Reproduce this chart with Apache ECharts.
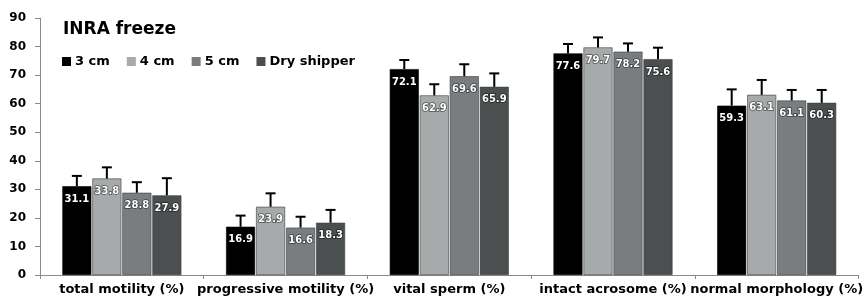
<!DOCTYPE html>
<html>
<head>
<meta charset="utf-8">
<script src="https://cdn.jsdelivr.net/npm/echarts@6/dist/echarts.min.js"></script>
<style>
  html, body { margin: 0; padding: 0; background: #fff; }
  #chart { width: 865px; height: 298px; }
</style>
</head>
<body>
<div id="chart"></div>
<script>
var categories  = ['total motility (%)', 'progressive motility (%)', 'vital sperm (%)', 'intact acrosome (%)', 'normal morphology (%)'];
var seriesNames = ['3 cm', '4 cm', '5 cm', 'Dry shipper'];
var colors      = ['#000000', '#a7aaab', '#7a7d7f', '#4b4f50'];

var values3cm   = [31.1, 16.9, 72.1, 77.6, 59.3];
var values4cm   = [33.8, 23.9, 62.9, 79.7, 63.1];
var values5cm   = [28.8, 16.6, 69.6, 78.2, 61.1];
var valuesDry   = [27.9, 18.3, 65.9, 75.6, 60.3];

var errors3cm   = [3.6, 3.9, 3.2, 3.3, 5.7];
var errors4cm   = [3.9, 4.7, 3.9, 3.5, 5.2];
var errors5cm   = [3.7, 3.8, 4.2, 2.9, 3.7];
var errorsDry   = [6.0, 4.5, 4.7, 4.0, 4.5];

var yTicks = { min: 0, max: 90, interval: 10 };

var BAR_WIDTH = 29;
var BAR_STEP  = 30;
var FONT      = '"DejaVu Sans", Verdana, sans-serif';

var allValues = [values3cm, values4cm, values5cm, valuesDry];
var allErrors = [errors3cm, errors4cm, errors5cm, errorsDry];

/**
 * Build the bar series for one group.
 */
function barSeries(index)
{
    return {
        name: seriesNames[index],
        type: 'bar',
        barWidth: BAR_WIDTH,
        barGap: ((BAR_STEP - BAR_WIDTH) / BAR_WIDTH * 100) + '%',
        itemStyle: {color: colors[index], borderColor: index == 0 ? '#000' : '#3a3d3e', borderWidth: 0.6},
        label:
        {
            show: true,
            position: 'insideTop',
            distance: 8,
            color: '#fff',
            fontFamily: FONT,
            fontWeight: 'bold',
            fontSize: 10,
            textBorderColor: 'rgba(0,0,0,0.55)',
            textBorderWidth: 1.5,
            formatter: function(p) { return p.value.toFixed(1); }
        },
        data: allValues[index],
        z: 2
    };
}

/**
 * Build the error bar series (upper whisker only) for one group.
 */
function errorSeries(index)
{
    var data = allValues[index].map(function(v, i) { return [i, v, allErrors[index][i]]; });
    return {
        name: seriesNames[index],
        type: 'custom',
        encode: {x: 0, y: 1},
        data: data,
        z: 3,
        silent: true,
        renderItem: function(params, api)
        {
            var idx    = api.value(0);
            var top    = api.coord([idx, api.value(1)]);
            var cap    = api.coord([idx, api.value(1) + api.value(2)]);
            var offset = (index - 1.5) * BAR_STEP;
            var x      = top[0] + offset;
            var style  = {stroke: '#000', lineWidth: 2};
            return {
                type: 'group',
                children:
                [
                    {type: 'line', shape: {x1: x, y1: top[1], x2: x, y2: cap[1]}, style: style},
                    {type: 'line', shape: {x1: x - 5, y1: cap[1], x2: x + 5, y2: cap[1]}, style: style}
                ]
            };
        }
    };
}

var series = [];
for(var i = 0; i < seriesNames.length; i++) series.push(barSeries(i));
for(var i = 0; i < seriesNames.length; i++) series.push(errorSeries(i));

var chart = echarts.init(document.getElementById('chart'), null, {renderer: 'canvas'});
chart.setOption({
    animation: false,
    backgroundColor: '#fff',
    color: colors,
    title:
    {
        text: 'INRA freeze',
        left: 58,
        top: 16,
        textStyle: {fontFamily: FONT, fontWeight: 'bold', fontSize: 17, color: '#000'}
    },
    legend:
    {
        data: seriesNames,
        left: 57,
        top: 50,
        itemWidth: 9,
        itemHeight: 9,
        itemGap: 17,
        icon: 'rect',
        itemStyle: {borderWidth: 0},
        textStyle: {fontFamily: FONT, fontWeight: 'bold', fontSize: 13, color: '#000', padding: [0, 0, 0, -1]}
    },
    grid: {left: 40, top: 18, width: 830, bottom: 23, containLabel: false},
    xAxis:
    {
        type: 'category',
        data: categories,
        axisLine: {lineStyle: {color: '#8a8a8a', width: 1}},
        axisTick: {show: true, length: 4, interval: 0, lineStyle: {color: '#8a8a8a'}},
        axisLabel: {interval: 0, margin: 8, color: '#000', fontFamily: FONT, fontWeight: 'bold', fontSize: 13}
    },
    yAxis:
    {
        type: 'value',
        min: yTicks.min,
        max: yTicks.max,
        interval: yTicks.interval,
        axisLine: {show: true, lineStyle: {color: '#8a8a8a', width: 1}},
        axisTick: {show: true, length: 5, lineStyle: {color: '#8a8a8a'}},
        splitLine: {show: false},
        axisLabel: {margin: 14, color: '#000', fontFamily: FONT, fontWeight: 'bold', fontSize: 12}
    },
    series: series
});
</script>
</body>
</html>
